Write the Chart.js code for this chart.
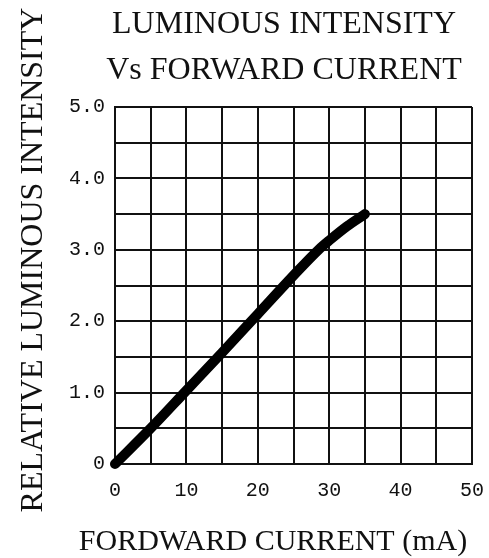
<!DOCTYPE html>
<html>
<head>
<meta charset="utf-8">
<title>Luminous Intensity vs Forward Current</title>
<script src="https://cdn.jsdelivr.net/npm/chart.js@4.4.1/dist/chart.umd.min.js"></script>
<style>
  html, body { margin: 0; padding: 0; background: #fff; }
  #wrap { position: relative; width: 489px; height: 558px; }
</style>
</head>
<body>
<div id="wrap"><canvas id="ivChart"></canvas></div>
<script>
// --- Data ---
const currentMa = [0, 5, 10, 15, 20, 25, 28.5, 30, 32.5, 35];
const relIntensity = [0, 0.5, 1.03, 1.56, 2.1, 2.64, 3.0, 3.13, 3.33, 3.5];

const xTickLabels = ["0", "10", "20", "30", "40", "50"];
const yTickLabels = ["0", "1.0", "2.0", "3.0", "4.0", "5.0"];

const titleLines = ["LUMINOUS INTENSITY", "Vs FORWARD CURRENT"];
const xTitle = "FORDWARD CURRENT (mA)";
const yTitle = "RELATIVE LUMINOUS INTENSITY";

const INK = "#111";
const SERIF = '"Liberation Serif", "DejaVu Serif", serif';
const MONO = '"Liberation Mono", "DejaVu Sans Mono", monospace';

// titles are placed off-centre in the original, so draw them ourselves
const textLabels = {
  id: "textLabels",
  afterDraw(chart) {
    const ctx = chart.ctx;
    ctx.save();
    ctx.fillStyle = INK;
    ctx.textAlign = "center";
    ctx.textBaseline = "alphabetic";
    ctx.font = "32px " + SERIF;
    ctx.fillText(titleLines[0], 284, 33);
    ctx.fillText(titleLines[1], 284, 79);
    ctx.font = "30px " + SERIF;
    ctx.fillText(xTitle, 273, 550);
    ctx.translate(42, 260);
    ctx.rotate(-Math.PI / 2);
    ctx.font = "32px " + SERIF;
    ctx.fillText(yTitle, 0, 0);
    ctx.restore();
  },
};

function isWhole(v) {
  return Math.abs(v - Math.round(v)) < 1e-6;
}

const ctx = document.getElementById("ivChart").getContext("2d");
new Chart(ctx, {
  type: "line",
  data: {
    datasets: [
      {
        data: currentMa.map((x, i) => ({ x, y: relIntensity[i] })),
        borderColor: "#000",
        borderWidth: 10,
        borderCapStyle: "round",
        borderJoinStyle: "round",
        cubicInterpolationMode: "monotone",
        pointRadius: 0,
        clip: false,
      },
    ],
  },
  options: {
    responsive: true,
    maintainAspectRatio: false,
    animation: false,
    layout: { padding: { top: 107, right: 17, left: 0, bottom: 0 } },
    plugins: {
      legend: { display: false },
      tooltip: { enabled: false },
    },
    scales: {
      x: {
        type: "linear",
        min: 0,
        max: 50,
        grid: { color: INK, lineWidth: 2, drawTicks: false },
        border: { color: INK, width: 2 },
        ticks: {
          stepSize: 5,
          padding: 15,
          color: INK,
          font: { family: MONO, size: 20 },
          maxRotation: 0,
          autoSkip: false,
          callback: (v) => (isWhole(v / 10) ? xTickLabels[Math.round(v / 10)] : ""),
        },
        afterFit: (scale) => {
          scale.height = 94;
          scale.paddingLeft = 0;
          scale.paddingRight = 0;
        },
      },
      y: {
        min: 0,
        max: 5,
        grid: { color: INK, lineWidth: 2, drawTicks: false },
        border: { color: INK, width: 2 },
        ticks: {
          stepSize: 0.5,
          padding: 10,
          color: INK,
          font: { family: MONO, size: 20 },
          autoSkip: false,
          callback: (v) => (isWhole(v) ? yTickLabels[Math.round(v)] : ""),
        },
        afterFit: (scale) => { scale.width = 115; },
      },
    },
  },
  plugins: [textLabels],
});
</script>
</body>
</html>
